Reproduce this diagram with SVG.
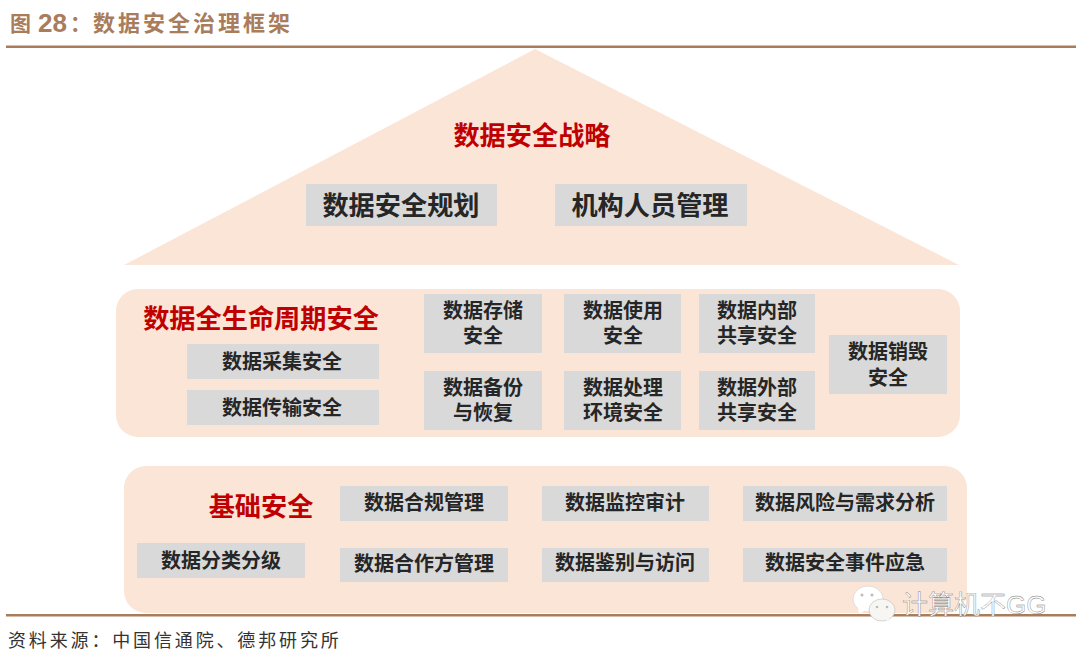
<svg xmlns="http://www.w3.org/2000/svg" width="1080" height="652" viewBox="0 0 1080 652">
<style>
text{font-family:"Liberation Sans","Noto Sans CJK SC",sans-serif;text-anchor:middle}
.panel{fill:#fbe5d6}
.box{fill:#d9d9d9}
.t{font-size:20px;font-weight:700;fill:#262626}
.b{font-size:26.200px;font-weight:700;fill:#262626}
.r{font-size:26.200px;font-weight:700;fill:#c00000}
.rule{fill:#a97c5c}
.h{text-anchor:start;font-weight:700;fill:#a97c5c}
</style>
<rect width="1080" height="652" fill="#fff"/>
<g id="header">
<text class="h" x="10" y="31" style="font-size:21px">图</text>
<text class="h" x="38" y="32" style="font-size:26px">28</text>
<text class="h" x="70" y="31" style="font-size:21px">：</text>
<text class="h" x="93" y="31" style="font-size:22px;letter-spacing:3px">数据安全治理框架</text>
<rect class="rule" x="6" y="45.500" width="1070" height="2.500"/>
</g>
<g id="roof">
<polygon class="panel" points="535,49 959,265 124,265"/>
<text class="r" x="532" y="145">数据安全战略</text>
</g>
<g id="n-plan"><rect class="box" x="306" y="184" width="191" height="42"/><text class="b" x="401" y="214.500">数据安全规划</text></g>
<g id="n-org"><rect class="box" x="555" y="184" width="192" height="42"/><text class="b" x="650" y="214.500">机构人员管理</text></g>
<g id="lifecycle">
<rect class="panel" x="116" y="289" width="844" height="148" rx="22"/>
<text class="r" x="261" y="328">数据全生命周期安全</text>
</g>
<g id="n-collect"><rect class="box" x="187" y="344" width="192" height="35"/><text class="t" x="282" y="369">数据采集安全</text></g>
<g id="n-transfer"><rect class="box" x="187" y="390" width="192" height="35"/><text class="t" x="282" y="415">数据传输安全</text></g>
<g id="n-store"><rect class="box" x="424" y="294" width="118" height="59"/><text class="t" x="483" y="318">数据存储</text><text class="t" x="483" y="343">安全</text></g>
<g id="n-use"><rect class="box" x="564" y="294" width="117" height="59"/><text class="t" x="623" y="318">数据使用</text><text class="t" x="623" y="343">安全</text></g>
<g id="n-inner"><rect class="box" x="699" y="294" width="116" height="59"/><text class="t" x="757" y="318">数据内部</text><text class="t" x="757" y="343">共享安全</text></g>
<g id="n-backup"><rect class="box" x="424" y="371" width="118" height="59"/><text class="t" x="483" y="395">数据备份</text><text class="t" x="483" y="420">与恢复</text></g>
<g id="n-env"><rect class="box" x="564" y="371" width="117" height="59"/><text class="t" x="623" y="395">数据处理</text><text class="t" x="623" y="420">环境安全</text></g>
<g id="n-outer"><rect class="box" x="699" y="371" width="116" height="59"/><text class="t" x="757" y="395">数据外部</text><text class="t" x="757" y="420">共享安全</text></g>
<g id="n-destroy"><rect class="box" x="829" y="335" width="118" height="59"/><text class="t" x="888" y="359">数据销毁</text><text class="t" x="888" y="385">安全</text></g>
<g id="foundation">
<rect class="panel" x="124" y="466" width="843" height="147" rx="22"/>
<text class="r" x="261" y="516">基础安全</text>
</g>
<g id="n-comply"><rect class="box" x="340" y="486" width="168" height="35"/><text class="t" x="424" y="510">数据合规管理</text></g>
<g id="n-monitor"><rect class="box" x="542" y="486" width="167" height="35"/><text class="t" x="625" y="510">数据监控审计</text></g>
<g id="n-risk"><rect class="box" x="743" y="486" width="204" height="35"/><text class="t" x="845" y="510">数据风险与需求分析</text></g>
<g id="n-classify"><rect class="box" x="137" y="543" width="168" height="35"/><text class="t" x="221" y="568">数据分类分级</text></g>
<g id="n-partner"><rect class="box" x="340" y="548" width="168" height="34"/><text class="t" x="424" y="571">数据合作方管理</text></g>
<g id="n-access"><rect class="box" x="542" y="548" width="167" height="34"/><text class="t" x="625" y="570">数据鉴别与访问</text></g>
<g id="n-incident"><rect class="box" x="743" y="548" width="204" height="34"/><text class="t" x="845" y="570">数据安全事件应急</text></g>
<g id="footer">
<rect class="rule" x="6" y="614" width="1070" height="2.500"/>
<text x="8" y="647" style="text-anchor:start;font-size:18px;fill:#333;letter-spacing:2.850px">资料来源：中国信通院、德邦研究所</text>
</g>
<g id="watermark">
<ellipse cx="868" cy="599" rx="15" ry="13" fill="#fff" stroke="#ccc" stroke-width=".6"/>
<path d="M858 608l1 6 7-4z" fill="#fff"/>
<ellipse cx="882" cy="610" rx="13" ry="11" fill="#f8f6f2" stroke="#bbb" stroke-width=".6"/>
<path d="M884 619l6 3-1-5z" fill="#f8f6f2"/>
<circle cx="862" cy="595" r="1.500" fill="#bbb"/><circle cx="872" cy="595" r="1.500" fill="#bbb"/>
<circle cx="877" cy="607" r="1.300" fill="#bbb"/><circle cx="887" cy="607" r="1.300" fill="#bbb"/>
<text x="902" y="614" style="text-anchor:start;font-size:26px;fill:#fff;stroke:#777;stroke-width:.4px">计算机不GG</text>
</g>
</svg>
